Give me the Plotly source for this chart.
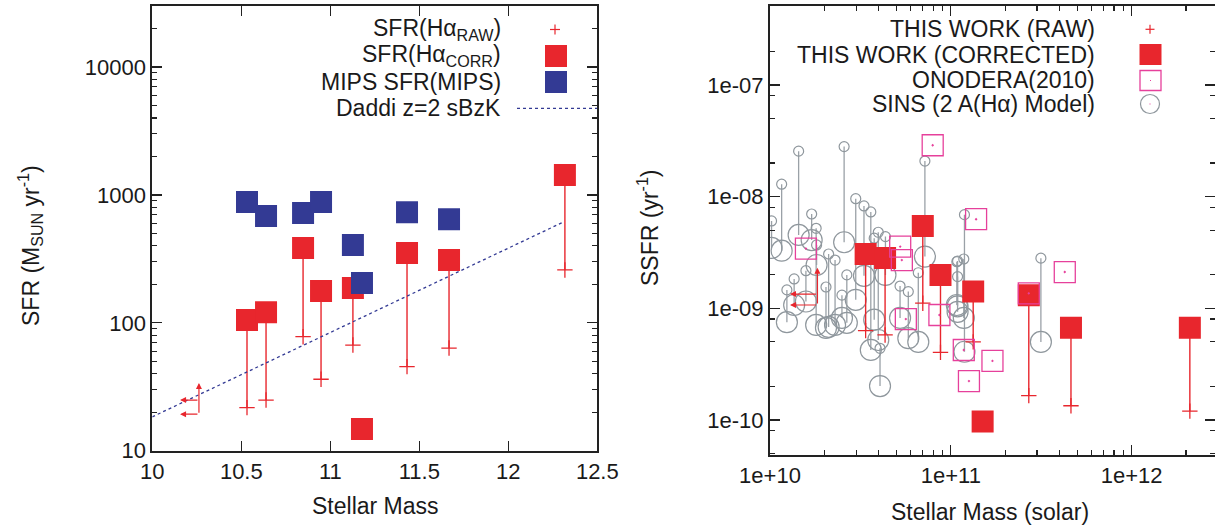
import numpy as np
import plotly.graph_objects as go

# ---------------- Left panel data (SFR vs stellar mass) ----------------
mass_corr = [10.532, 10.639, 10.847, 10.948, 11.127, 11.178, 11.431, 11.667, 12.318]
sfr_corr = [105, 121, 384, 177, 187, 14.8, 351, 310, 1432]
raw_link = [0, 1, 2, 3, 4, 6, 7, 8]          # index of corrected point for each raw point
sfr_raw = [21.7, 24.9, 77.9, 36.2, 67, 45.4, 63.5, 259]
mass_mips = [10.532, 10.639, 10.847, 10.948, 11.127, 11.178, 11.431, 11.667]
sfr_mips = [880, 684, 722, 880, 406, 205, 733, 646]
daddi_mass = [10.0, 12.3]
daddi_sfr = [18.4, 605]
# limit point (arrows)
lim_mass, lim_mass_left = 10.262, 10.156
lim_sfr_low, lim_sfr_high, lim_sfr_top = 19.3, 24.9, 33.8

# ---------------- Right panel data (SSFR vs stellar mass) ----------------
smass_corr = [3.38e10, 4.33e10, 7.0e10, 8.77e10, 1.33e11, 1.50e11, 2.70e11, 4.62e11, 2.10e12]
ssfr_corr = [3.06e-9, 2.82e-9, 5.46e-9, 1.99e-9, 1.41e-9, 9.7e-11, 1.31e-9, 6.7e-10, 6.7e-10]
ssfr_raw = [6.3e-10, 5.77e-10, 1.11e-9, 4.03e-10, 5.0e-10, 1.65e-10, 1.34e-10, 1.2e-10]
onodera_mass = [1.58e10, 7.94e10, 5.25e10, 5.36e10, 5.64e10, 8.65e10, 1.38e11, 1.18e11,
                1.70e11, 1.26e11, 2.70e11, 4.27e11]
onodera_ssfr = [3.42e-9, 2.88e-8, 3.56e-9, 2.7e-9, 8.0e-10, 8.7e-10, 6.27e-9, 4.23e-10,
                3.38e-10, 2.23e-10, 1.36e-9, 2.11e-9]
# SINS: mass (1e10 Msun), SSFR of small circle and of large circle (1e-9 /yr)
sins_mass = [1.44, 2.57, 1.16, 1.02, 7.19, 2.98, 3.31, 3.61, 1.70, 1.80, 1.81, 3.97, 3.77,
             4.35, 2.11, 2.29, 1.58, 1.36, 2.66, 6.61, 5.82, 10.8, 11.9, 10.9, 11.8, 10.9,
             31.5, 4.06, 2.04, 2.50, 5.24, 1.24]
sins_small = [25.5, 28.0, 12.9, 6.05, 20.8, 9.57, 8.24, 7.28, 6.98, 5.20, 3.69, 4.79, 4.24,
              4.38, 3.06, 2.70, 2.17, 1.83, 1.99, 2.08, 1.41, 2.61, 6.89, 2.65, 2.76, 1.92,
              2.81, 0.438, 1.55, 1.31, 1.58, 1.46]
sins_big = [4.53, 3.90, 3.28, 3.47, 2.90, 1.19, 1.95, 0.424, 4.08, 0.71, 2.44, 0.52, 0.79,
            1.99, 0.68, 0.71, 1.15, 1.07, 0.74, 0.50, 0.54, 1.07, 0.408, 0.93, 0.82, 1.04,
            0.50, 0.201, 0.667, 0.82, 0.82, 0.75]
# limit point (arrows)
slim_mass, slim_mass_left = 1.83e10, 1.29e10
slim_low, slim_high, slim_top = 1.07e-9, 1.34e-9, 2.30e-9

RED = "#e8262d"
BLUE = "#333a94"
PINK = "#e6409b"
GREY = "#8f979d"
FONT = "Liberation Sans, Arial, Helvetica, sans-serif"
W, H = 1215, 530

fig = go.Figure()

# ---- left panel traces ----
lx, ly = [], []
for i, r in zip(raw_link, sfr_raw):
    lx += [mass_corr[i], mass_corr[i], None]
    ly += [sfr_corr[i], r, None]
fig.add_trace(go.Scatter(x=lx, y=ly, mode="lines", line=dict(color=RED, width=1.4),
                         xaxis="x", yaxis="y", showlegend=False, hoverinfo="skip"))
fig.add_trace(go.Scatter(x=[mass_corr[i] for i in raw_link], y=sfr_raw, mode="markers",
                         marker=dict(symbol="cross-thin-open", size=11, color=RED,
                                     line=dict(color=RED, width=1.3)),
                         xaxis="x", yaxis="y", showlegend=False))
fig.add_trace(go.Scatter(x=daddi_mass, y=daddi_sfr, mode="lines",
                         line=dict(color=BLUE, width=1.3, dash="3px,3px"),
                         xaxis="x", yaxis="y", showlegend=False))
fig.add_trace(go.Scatter(x=mass_corr, y=sfr_corr, mode="markers",
                         marker=dict(symbol="square", size=22, color=RED, line=dict(width=0)),
                         xaxis="x", yaxis="y", showlegend=False))
fig.add_trace(go.Scatter(x=mass_mips, y=sfr_mips, mode="markers",
                         marker=dict(symbol="square", size=22, color=BLUE, line=dict(width=0)),
                         xaxis="x", yaxis="y", showlegend=False))

# ---- right panel traces ----
sx, sy = [], []
for m, a, b in zip(sins_mass, sins_small, sins_big):
    sx += [m * 1e10, m * 1e10, None]
    sy += [a * 1e-9, b * 1e-9, None]
fig.add_trace(go.Scatter(x=sx, y=sy, mode="lines", line=dict(color="#9aa1a7", width=1.3),
                         xaxis="x2", yaxis="y2", showlegend=False, hoverinfo="skip"))
fig.add_trace(go.Scatter(x=[m * 1e10 for m in sins_mass], y=[v * 1e-9 for v in sins_small],
                         mode="markers",
                         marker=dict(symbol="circle-open", size=10, color=GREY,
                                     line=dict(color=GREY, width=1.2)),
                         xaxis="x2", yaxis="y2", showlegend=False))
fig.add_trace(go.Scatter(x=[m * 1e10 for m in sins_mass], y=[v * 1e-9 for v in sins_big],
                         mode="markers",
                         marker=dict(symbol="circle-open", size=21, color=GREY,
                                     line=dict(color=GREY, width=1.2)),
                         xaxis="x2", yaxis="y2", showlegend=False))
rx, ry = [], []
for i, r in zip(raw_link, ssfr_raw):
    rx += [smass_corr[i], smass_corr[i], None]
    ry += [ssfr_corr[i], r, None]
fig.add_trace(go.Scatter(x=rx, y=ry, mode="lines", line=dict(color=RED, width=1.4),
                         xaxis="x2", yaxis="y2", showlegend=False, hoverinfo="skip"))
fig.add_trace(go.Scatter(x=[smass_corr[i] for i in raw_link], y=ssfr_raw, mode="markers",
                         marker=dict(symbol="cross-thin-open", size=11, color=RED,
                                     line=dict(color=RED, width=1.3)),
                         xaxis="x2", yaxis="y2", showlegend=False))
fig.add_trace(go.Scatter(x=smass_corr, y=ssfr_corr, mode="markers",
                         marker=dict(symbol="square", size=22, color=RED, line=dict(width=0)),
                         xaxis="x2", yaxis="y2", showlegend=False))
fig.add_trace(go.Scatter(x=onodera_mass, y=onodera_ssfr, mode="markers",
                         marker=dict(symbol="square-open-dot", size=21, color=PINK,
                                     line=dict(color=PINK, width=1.3)),
                         xaxis="x2", yaxis="y2", showlegend=False))


def px(x):
    return x / W


def py(y):
    return 1 - y / H


def minor_vals(lo, hi, mult):
    out = []
    for d in range(lo, hi + 1):
        for k in mult:
            out.append(k * 10.0 ** d)
    return out


axis_common = dict(showline=True, linecolor="#222", linewidth=2, mirror="ticks", ticks="inside",
                   tickcolor="#222", tickwidth=1.3, ticklen=10, showgrid=False, zeroline=False,
                   automargin=False,
                   tickfont=dict(family=FONT, size=22, color="#1a1a1a"))

fig.update_layout(
    width=W, height=H, autosize=False, margin=dict(l=0, r=0, t=0, b=0, pad=0, autoexpand=False),
    paper_bgcolor="white", plot_bgcolor="white", showlegend=False,
    xaxis=dict(domain=[px(152.3), px(597.3)], range=[10, 12.5], anchor="y",
               tickvals=[10, 10.5, 11, 11.5, 12, 12.5],
               ticktext=["10", "10.5", "11", "11.5", "12", "12.5"], **axis_common),
    yaxis=dict(domain=[py(450.7), py(6)], type="log", range=[1, np.log10(30000)], anchor="x",
               tickvals=[10, 100, 1000, 10000], ticktext=["10", "100", "1000", "10000"],
               minor=dict(tickvals=minor_vals(1, 4, range(2, 10)), ticks="inside", ticklen=5,
                          tickcolor="#222", tickwidth=1.2, showgrid=False),
               **axis_common),
    xaxis2=dict(domain=[px(770), 1.0], type="log", range=[10, 12.4613], anchor="y2",
                tickvals=[1e10, 1e11, 1e12], ticktext=["1e+10", "1e+11", "1e+12"],
                minor=dict(tickvals=minor_vals(10, 12, range(2, 10)), ticks="inside", ticklen=5,
                           tickcolor="#222", tickwidth=1.2, showgrid=False),
                **axis_common),
    yaxis2=dict(domain=[py(454.7), py(6)], type="log", range=[-10.311, -6.294], anchor="x2",
                tickvals=[1e-10, 1e-9, 1e-8, 1e-7], ticktext=["1e-10", "1e-09", "1e-08", "1e-07"],
                minor=dict(tickvals=minor_vals(-11, -7, [2, 5, 8]), ticks="inside", ticklen=5,
                           tickcolor="#222", tickwidth=1.2, showgrid=False),
                **axis_common),
)

ann = []
shapes = []
tf = dict(family=FONT, size=23, color="#1a1a1a")

# axis titles
ann.append(dict(text="Stellar Mass", x=px(375), y=py(506), xref="paper", yref="paper",
                showarrow=False, font=tf, xanchor="center", yanchor="middle"))
ann.append(dict(text="Stellar Mass (solar)", x=px(990), y=py(512), xref="paper", yref="paper",
                showarrow=False, font=tf, xanchor="center", yanchor="middle"))
ann.append(dict(text="SFR (M<sub>SUN</sub> yr<sup>-1</sup>)", x=px(30), y=py(246), xref="paper",
                yref="paper", showarrow=False, font=tf, textangle=-90,
                xanchor="center", yanchor="middle"))
ann.append(dict(text="SSFR (yr<sup>-1</sup>)", x=px(648), y=py(228), xref="paper", yref="paper",
                showarrow=False, font=tf, textangle=-90, xanchor="center", yanchor="middle"))

# left legend
left_rows = ["SFR(H\u03b1<sub>RAW</sub>)", "SFR(H\u03b1<sub>CORR</sub>)", "MIPS SFR(MIPS)",
             "Daddi z=2 sBzK"]
left_y = [29.5, 56, 81.5, 108]
for t, yy in zip(left_rows, left_y):
    ann.append(dict(text=t, x=px(503), y=py(yy), xref="paper", yref="paper", showarrow=False,
                    font=tf, xanchor="right", yanchor="middle"))
# left legend keys
shapes += [
    dict(type="line", xref="paper", yref="paper", x0=px(550), x1=px(560), y0=py(29.5), y1=py(29.5),
         line=dict(color=RED, width=1.2)),
    dict(type="line", xref="paper", yref="paper", x0=px(555), x1=px(555), y0=py(24.5), y1=py(34.5),
         line=dict(color=RED, width=1.2)),
    dict(type="rect", xref="paper", yref="paper", x0=px(545), x1=px(567), y0=py(45), y1=py(67),
         fillcolor=RED, line=dict(width=0)),
    dict(type="rect", xref="paper", yref="paper", x0=px(545), x1=px(567), y0=py(71), y1=py(93),
         fillcolor=BLUE, line=dict(width=0)),
    dict(type="line", xref="paper", yref="paper", x0=px(517), x1=px(597), y0=py(108.3), y1=py(108.3),
         line=dict(color=BLUE, width=1.3, dash="3px,3px")),
]

# right legend
right_rows = ["THIS WORK (RAW)", "THIS WORK (CORRECTED)", "ONODERA(2010)",
              "SINS (2 A(H\u03b1) Model)"]
right_y = [28.5, 54.5, 80, 104]
for t, yy in zip(right_rows, right_y):
    ann.append(dict(text=t, x=px(1097), y=py(yy), xref="paper", yref="paper", showarrow=False,
                    font=tf, xanchor="right", yanchor="middle"))
shapes += [
    dict(type="line", xref="paper", yref="paper", x0=px(1145.5), x1=px(1154.5), y0=py(29.3),
         y1=py(29.3), line=dict(color=RED, width=1.2)),
    dict(type="line", xref="paper", yref="paper", x0=px(1150), x1=px(1150), y0=py(24.8),
         y1=py(33.8), line=dict(color=RED, width=1.2)),
    dict(type="rect", xref="paper", yref="paper", x0=px(1139.5), x1=px(1161.5), y0=py(44),
         y1=py(65), fillcolor=RED, line=dict(width=0)),
    dict(type="rect", xref="paper", yref="paper", x0=px(1140), x1=px(1161), y0=py(70.5),
         y1=py(90.5), fillcolor="rgba(0,0,0,0)", line=dict(color=PINK, width=1.3)),
    dict(type="rect", xref="paper", yref="paper", x0=px(1150), x1=px(1151), y0=py(80),
         y1=py(81), fillcolor=PINK, line=dict(width=0)),
    dict(type="circle", xref="paper", yref="paper", x0=px(1140.5), x1=px(1159.5), y0=py(94.5),
         y1=py(113.5), fillcolor="rgba(0,0,0,0)", line=dict(color=GREY, width=1.2)),
    dict(type="rect", xref="paper", yref="paper", x0=px(1149.5), x1=px(1150.5), y0=py(103.5),
         y1=py(104.5), fillcolor=PINK, line=dict(width=0)),
]

# limit arrows
arrow = dict(showarrow=True, arrowhead=2, arrowsize=1, arrowwidth=1.2, arrowcolor=RED,
             text="", standoff=0, startstandoff=0)
L = np.log10
ann += [
    dict(x=lim_mass, y=L(lim_sfr_top), ax=lim_mass, ay=L(lim_sfr_low), xref="x", yref="y",
         axref="x", ayref="y", **arrow),
    dict(x=lim_mass_left, y=L(lim_sfr_low), ax=lim_mass, ay=L(lim_sfr_low), xref="x", yref="y",
         axref="x", ayref="y", **arrow),
    dict(x=lim_mass_left, y=L(lim_sfr_high), ax=lim_mass, ay=L(lim_sfr_high), xref="x", yref="y",
         axref="x", ayref="y", **arrow),
    dict(x=L(slim_mass), y=L(slim_top), ax=L(slim_mass), ay=L(slim_low), xref="x2", yref="y2",
         axref="x2", ayref="y2", **arrow),
    dict(x=L(slim_mass_left), y=L(slim_low), ax=L(slim_mass), ay=L(slim_low), xref="x2",
         yref="y2", axref="x2", ayref="y2", **arrow),
    dict(x=L(slim_mass_left), y=L(slim_high), ax=L(slim_mass), ay=L(slim_high), xref="x2",
         yref="y2", axref="x2", ayref="y2", **arrow),
]

fig.update_layout(annotations=ann, shapes=shapes)
fig.write_html("out.html", config=dict(responsive=False, displayModeBar=False, staticPlot=True),
               post_script="document.body.style.margin='0';document.body.style.padding='0';"
                           "document.documentElement.style.overflow='hidden';")
